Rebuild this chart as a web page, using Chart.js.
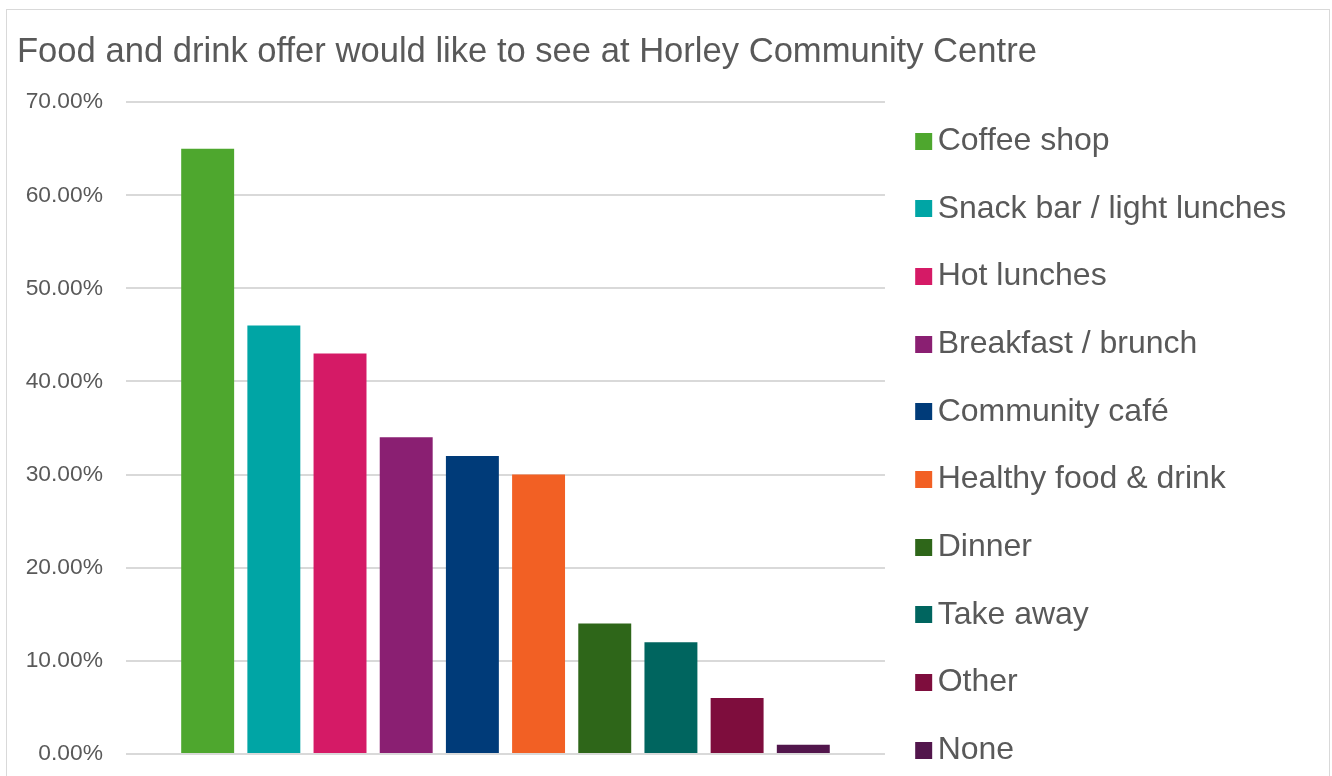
<!DOCTYPE html>
<html>
<head>
<meta charset="utf-8">
<script src="https://cdn.jsdelivr.net/npm/chart.js@4.4.0/dist/chart.umd.min.js"></script>
<style>
  html, body { margin: 0; padding: 0; background: #ffffff; overflow: hidden; width: 1332px; height: 776px; }
  #frame { position: absolute; left: 6px; top: 9px; width: 1322px; height: 900px; border: 1px solid #d9d9d9; }
  #chart { position: absolute; left: 0; top: 0; }
</style>
</head>
<body>
<div id="frame"></div>
<canvas id="chart" width="1332" height="802"></canvas>
<script>
// Survey answers: share of respondents choosing each food & drink option
const chartTitle = 'Food and drink offer would like to see at Horley Community Centre';
const categories = [
  'Coffee shop',
  'Snack bar / light lunches',
  'Hot lunches',
  'Breakfast / brunch',
  'Community café',
  'Healthy food & drink',
  'Dinner',
  'Take away',
  'Other',
  'None'
];
const values = [65, 46, 43, 34, 32, 30, 14, 12, 6, 1];
const colors = [
  '#4EA72E', '#00A5A5', '#D51A66', '#8A1F72', '#003B79',
  '#F26024', '#2E6619', '#00655F', '#7E0D3D', '#52164C'
];
const yMin = 0;
const yMax = 70;
const yStep = 10;

const fontFamily = '"Liberation Sans", Arial, Helvetica, sans-serif';
const textColor = '#595959';

// Square legend marker, offset inside a wider transparent image so the
// square sits close to its label text.
function swatch(color) {
  const c = document.createElement('canvas');
  c.width = 24;
  c.height = 17;
  const g = c.getContext('2d');
  g.fillStyle = color;
  g.fillRect(6, 0, 17, 17);
  return c;
}

const datasets = categories.map((name, i) => ({
  label: name,
  data: [values[i]],
  backgroundColor: colors[i],
  borderWidth: 0,
  categoryPercentage: 0.872,
  barPercentage: 0.8
}));

new Chart(document.getElementById('chart'), {
  type: 'bar',
  data: { labels: [''], datasets },
  options: {
    responsive: false,
    animation: false,
    devicePixelRatio: 1,
    layout: { padding: { left: 17, right: 35.7, top: 10, bottom: 0 } },
    plugins: {
      tooltip: { enabled: false },
      title: {
        display: true,
        text: chartTitle,
        align: 'start',
        color: textColor,
        font: { family: fontFamily, size: 34.6, weight: 'normal', lineHeight: 1.2 },
        padding: { top: 21.3, bottom: 29.3 }
      },
      legend: {
        position: 'right',
        align: 'end',
        maxWidth: 600,
        labels: {
          color: textColor,
          font: { family: fontFamily, size: 32 },
          padding: 35.7,
          usePointStyle: true,
          boxWidth: 1,
          boxHeight: 17,
          generateLabels(chart) {
            const items = Chart.defaults.plugins.legend.labels.generateLabels(chart);
            items.forEach(it => { it.pointStyle = swatch(it.fillStyle); it.lineWidth = 0; });
            return items;
          }
        }
      }
    },
    scales: {
      x: {
        ticks: { display: false },
        grid: { display: false, drawTicks: false },
        border: { display: false },
        title: { display: true, text: '', font: { size: 12, lineHeight: 1 }, padding: { top: 17, bottom: 19 } }
      },
      y: {
        min: yMin,
        max: yMax,
        ticks: {
          stepSize: yStep,
          padding: 23,
          color: textColor,
          font: { family: fontFamily, size: 22.8 },
          callback: v => Number(v).toFixed(2) + '%'
        },
        grid: { color: '#d9d9d9', lineWidth: 2, drawTicks: false },
        border: { display: false },
        afterFit: scale => { scale.width = 109; }
      }
    }
  }
});
</script>
</body>
</html>
